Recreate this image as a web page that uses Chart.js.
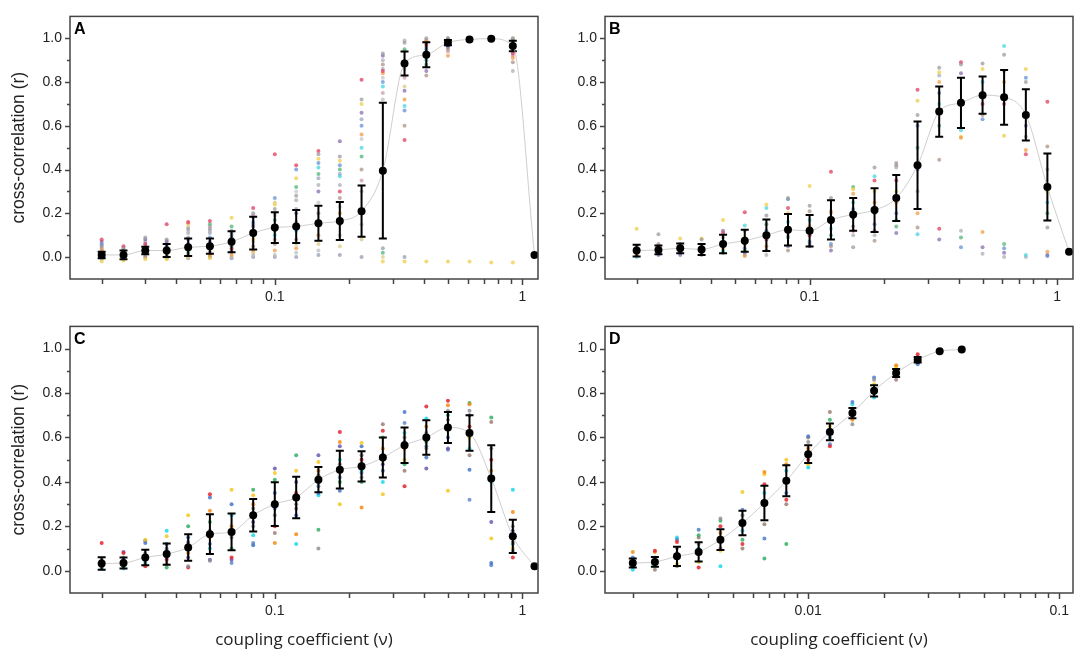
<!DOCTYPE html>
<html>
<head>
<meta charset="utf-8">
<script src="https://cdn.jsdelivr.net/npm/chart.js@4.4.1/dist/chart.umd.min.js"></script>
<style>
  html, body { margin: 0; padding: 0; background: #fff; }
  #wrap { position: relative; width: 1084px; height: 657px; }
  #wrap canvas { position: absolute; }
</style>
</head>
<body>
<div id="wrap">
  <canvas id="chartA" width="542" height="310" style="left:0;top:0"></canvas>
  <canvas id="chartB" width="542" height="310" style="left:542px;top:0"></canvas>
  <canvas id="chartC" width="542" height="347" style="left:0;top:310px"></canvas>
  <canvas id="chartD" width="542" height="347" style="left:542px;top:310px"></canvas>
</div>
<script>
// coupling coefficients (x)
const xABC = [0.02, 0.0245, 0.03, 0.0366, 0.0447, 0.0547, 0.0669, 0.0818, 0.1, 0.122, 0.15, 0.183,
              0.224, 0.273, 0.334, 0.409, 0.5, 0.611, 0.748, 0.914, 1.118];
const xD = [0.002, 0.00245, 0.003, 0.00366, 0.00447, 0.00547, 0.00669, 0.00818, 0.01, 0.0122, 0.015,
            0.0183, 0.0224, 0.0273, 0.0334, 0.0409];

// tick marks / labels
const yTicks = [0, 0.2, 0.4, 0.6, 0.8, 1.0];
const yMinorTicks = [0.1, 0.3, 0.5, 0.7, 0.9];
const xTicksABC = [0.02, 0.03, 0.04, 0.05, 0.06, 0.07, 0.08, 0.09, 0.1, 0.2, 0.3, 0.4, 0.5, 0.6, 0.7, 0.8, 0.9, 1];
const xLabelsABC = [0.1, 1];
const xTicksD = [0.002, 0.003, 0.004, 0.005, 0.006, 0.007, 0.008, 0.009, 0.01, 0.02, 0.03, 0.04, 0.05, 0.06, 0.07, 0.08, 0.09, 0.1];
const xLabelsD = [0.01, 0.1];

// panel A: means, sd, individual runs per coupling value
const meanA = [0.01, 0.01, 0.03, 0.03, 0.045, 0.05, 0.07, 0.11, 0.135, 0.14, 0.155, 0.165, 0.21, 0.395,
               0.885, 0.925, 0.98, 0.995, 0.998, 0.965, 0.01];
const sdA = [0.015, 0.02, 0.017, 0.03, 0.04, 0.035, 0.048, 0.075, 0.07, 0.075, 0.08, 0.087, 0.117, 0.31,
             0.055, 0.057, 0.012, 0, 0, 0.024, 0];
const dotsA = [
  [0.05, 0.08, 0.03, -0.02, 0.06, 0.02, 0.0, 0.07, 0.04, 0.01, -0.01, 0.0, 0.03, 0.015, 0.055, -0.005],
  [0.04, 0.05, 0.02, -0.015, 0.03, 0.01, 0.0, 0.02, 0.0, 0.035, -0.01, 0.01, 0.025, 0.045, 0.005, 0.015],
  [0.09, 0.06, 0.03, -0.01, 0.05, 0.04, 0.02, 0.08, 0.0, 0.07, 0.01, 0.035, 0.06, 0.045, 0.0, 0.025],
  [0.08, 0.15, 0.02, -0.01, 0.05, 0.03, 0.0, 0.07, 0.01, 0.06, 0.04, -0.005, 0.045, 0.015, 0.075, 0.005],
  [0.13, 0.16, 0.155, 0.0, 0.08, 0.04, 0.02, 0.06, 0.01, 0.11, 0.03, -0.005, 0.09, 0.12, 0.05, 0.14],
  [0.13, 0.165, 0.01, -0.005, 0.09, 0.05, 0.15, 0.07, 0.02, 0.12, 0.03, 0.0, 0.11, 0.06, 0.14, 0.005],
  [0.12, 0.04, 0.01, 0.18, 0.09, 0.05, 0.14, 0.07, 0.03, 0.1, 0.0, -0.005, 0.11, 0.08, 0.02, 0.06],
  [0.2, 0.225, 0.03, 0.08, 0.16, 0.1, 0.12, 0.14, 0.05, 0.18, 0.01, 0.0, 0.15, 0.07, 0.19, 0.02],
  [0.22, 0.47, 0.03, 0.24, 0.27, 0.1, 0.17, 0.12, 0.06, 0.2, 0.01, 0.0, 0.14, 0.19, 0.08, 0.25],
  [0.28, 0.42, 0.04, 0.36, 0.40, 0.12, 0.32, 0.2, 0.08, 0.26, 0.02, 0.0, 0.22, 0.3, 0.16, 0.06],
  [0.47, 0.485, 0.1, 0.45, 0.43, 0.41, 0.38, 0.3, 0.2, 0.33, 0.03, 0.01, 0.36, 0.25, 0.15, 0.06],
  [0.46, 0.3, 0.2, 0.44, 0.42, 0.37, 0.40, 0.53, 0.27, 0.33, 0.1, 0.01, 0.38, 0.23, 0.15, 0.05],
  [0.72, 0.81, 0.56, 0.7, 0.6, 0.5, 0.46, 0.66, 0.4, 0.3, 0.15, 0.0, 0.63, 0.54, 0.35, 0.08],
  [0.93, 0.85, 0.84, -0.02, 0.8, 0.78, 0.02, 0.92, 0.88, 0.9, 0.72, 0.04, 0.86, 0.82, 0.75, 0.0],
  [0.98, 0.535, 0.72, -0.02, 0.67, 0.69, 0.95, 0.76, 0.6, 0.99, 0.9, 0.0, 0.94, 0.86, 0.82, 0.78],
  [1.0, 0.97, 0.99, -0.02, 0.95, 0.9, 0.88, 0.85, 0.83, 0.98, 0.93, 0.96, 0.94, 0.87, 0.99, 0.91],
  [1.0, 0.99, 0.92, -0.02, 0.98, 0.97, 0.99, 0.96, 0.95, 1.0, 0.99, 0.985, 0.995, 0.97, 0.94, 0.98],
  [1.0, 0.995, 0.99, -0.02, 1.0, 0.995, 1.0, 0.99, 1.0, 1.0, 0.995, 1.0, 1.0, 0.99, 1.0, 0.995],
  [1.0, 0.995, 0.995, -0.025, 1.0, 1.0, 1.0, 0.995, 1.0, 1.0, 0.995, 1.0, 1.0, 1.0, 0.995, 1.0],
  [1.0, 0.93, 0.91, -0.025, 0.96, 0.95, 0.99, 0.97, 0.89, 0.85, 0.99, 0.98, 0.94, 0.97, 0.92, 1.0],
  null
];

// panel B
const meanB = [0.03, 0.033, 0.04, 0.035, 0.06, 0.075, 0.1, 0.125, 0.12, 0.17, 0.195, 0.215, 0.27, 0.42,
               0.665, 0.705, 0.74, 0.73, 0.65, 0.32, 0.025];
const sdB = [0.027, 0.02, 0.022, 0.025, 0.042, 0.05, 0.072, 0.072, 0.072, 0.09, 0.075, 0.1, 0.105, 0.2,
             0.115, 0.115, 0.085, 0.125, 0.117, 0.153, 0];
const dotsB = [
  [0.05, 0.03, 0.01, 0.13, 0.02, 0.0, 0.04, 0.01, 0.02, 0.03],
  [0.105, 0.03, 0.02, 0.04, 0.05, 0.02, 0.03, 0.01, 0.06, 0.02],
  [0.06, 0.03, 0.04, 0.085, 0.02, 0.05, 0.03, 0.01, 0.04, 0.02],
  [0.08, 0.02, 0.04, 0.085, 0.05, 0.03, 0.02, 0.03, 0.01, 0.05],
  [0.09, 0.11, 0.04, 0.17, 0.06, 0.03, 0.02, 0.12, 0.05, 0.02],
  [0.12, 0.205, 0.005, 0.09, 0.04, 0.145, 0.03, 0.02, 0.06, 0.01],
  [0.19, 0.08, 0.05, 0.24, 0.12, 0.225, 0.15, 0.1, 0.03, 0.01],
  [0.27, 0.225, 0.12, 0.2, 0.265, 0.16, 0.09, 0.05, 0.03, 0.1],
  [0.235, 0.1, 0.14, 0.325, 0.07, 0.17, 0.12, 0.05, 0.21, 0.06],
  [0.27, 0.39, 0.21, 0.17, 0.06, 0.13, 0.1, 0.03, 0.05, 0.2],
  [0.045, 0.12, 0.29, 0.31, 0.22, 0.25, 0.32, 0.18, 0.14, 0.1],
  [0.41, 0.35, 0.25, 0.3, 0.15, 0.37, 0.2, 0.12, 0.075, 0.1],
  [0.43, 0.35, 0.25, 0.3, 0.2, 0.17, 0.14, 0.11, 0.42, 0.41],
  [0.65, 0.765, 0.2, 0.715, 0.6, 0.105, 0.5, 0.4, 0.135, 0.3],
  [0.865, 0.13, 0.8, 0.845, 0.75, 0.7, 0.6, 0.08, 0.445, 0.83],
  [0.88, 0.89, 0.545, 0.55, 0.045, 0.58, 0.09, 0.84, 0.7, 0.12],
  [0.885, 0.7, 0.115, 0.86, 0.63, 0.8, 0.75, 0.045, 0.65, 0.015],
  [0.925, 0.7, 0.8, 0.555, 0.04, 0.965, 0.06, 0.02, 0.85, 0.0],
  [0.8, 0.47, 0.49, 0.86, 0.82, 0.01, 0.65, 0.6, 0.55, 0.0],
  [0.135, 0.71, 0.025, 0.3, 0.005, 0.25, 0.2, 0.01, 0.505, 0.4],
  null
];

// panel C
const meanC = [0.033, 0.035, 0.06, 0.075, 0.105, 0.165, 0.175, 0.25, 0.3, 0.33, 0.41, 0.455, 0.47, 0.51,
               0.565, 0.6, 0.645, 0.62, 0.415, 0.155, 0.02];
const sdC = [0.028, 0.025, 0.035, 0.048, 0.06, 0.09, 0.083, 0.073, 0.098, 0.093, 0.057, 0.085, 0.068, 0.09,
             0.08, 0.078, 0.07, 0.08, 0.15, 0.075, 0];
const dotsC = [
  [0.05, 0.125, 0.03, 0.02, 0.04, 0.01, 0.03, 0.02, 0.045, 0.015],
  [0.06, 0.08, 0.04, 0.03, 0.05, 0.01, 0.02, 0.085, 0.03, 0.04],
  [0.08, 0.02, 0.05, 0.14, 0.125, 0.04, 0.06, 0.135, 0.03, 0.07],
  [0.1, 0.05, 0.08, 0.155, 0.12, 0.18, 0.015, 0.06, 0.03, 0.09],
  [0.02, 0.015, 0.08, 0.25, 0.15, 0.1, 0.2, 0.06, 0.12, 0.13],
  [0.045, 0.345, 0.27, 0.15, 0.33, 0.1, 0.22, 0.05, 0.18, 0.12],
  [0.15, 0.06, 0.2, 0.365, 0.3, 0.25, 0.1, 0.05, 0.17, 0.035],
  [0.2, 0.25, 0.3, 0.34, 0.115, 0.16, 0.365, 0.22, 0.28, 0.125],
  [0.25, 0.2, 0.125, 0.44, 0.35, 0.3, 0.41, 0.46, 0.17, 0.28],
  [0.3, 0.35, 0.165, 0.45, 0.25, 0.12, 0.52, 0.4, 0.28, 0.33],
  [0.1, 0.4, 0.45, 0.49, 0.35, 0.34, 0.185, 0.52, 0.43, 0.38],
  [0.45, 0.625, 0.58, 0.3, 0.36, 0.5, 0.4, 0.56, 0.48, 0.42],
  [0.42, 0.5, 0.285, 0.575, 0.56, 0.45, 0.4, 0.48, 0.52, 0.44],
  [0.5, 0.63, 0.55, 0.345, 0.45, 0.4, 0.6, 0.48, 0.66, 0.52],
  [0.6, 0.38, 0.55, 0.5, 0.715, 0.62, 0.48, 0.58, 0.45, 0.665],
  [0.55, 0.74, 0.65, 0.6, 0.51, 0.685, 0.58, 0.46, 0.62, 0.56],
  [0.72, 0.765, 0.745, 0.36, 0.6, 0.65, 0.7, 0.55, 0.68, 0.545],
  [0.72, 0.65, 0.75, 0.6, 0.455, 0.55, 0.755, 0.7, 0.52, 0.32],
  [0.55, 0.5, 0.45, 0.145, 0.035, 0.4, 0.69, 0.22, 0.67, 0.025],
  [0.2, 0.06, 0.265, 0.1, 0.15, 0.365, 0.12, 0.18, 0.13, 0.09],
  null
];

// panel D
const meanD = [0.035, 0.04, 0.065, 0.085, 0.14, 0.215, 0.305, 0.405, 0.525, 0.625, 0.71, 0.81, 0.89, 0.95,
               0.988, 0.996];
const sdD = [0.02, 0.022, 0.043, 0.043, 0.047, 0.055, 0.078, 0.07, 0.04, 0.038, 0.023, 0.025, 0.018, 0.012, 0, 0];
const dotsD = [
  [0.04, 0.02, 0.085, 0.03, 0.06, 0.005, 0.045, 0.025],
  [0.06, 0.09, 0.085, 0.04, 0.03, 0.02, 0.05, 0.005],
  [0.1, 0.13, 0.06, 0.03, 0.14, 0.15, 0.08, 0.02],
  [0.12, 0.015, 0.08, 0.04, 0.185, 0.1, 0.16, 0.15],
  [0.235, 0.2, 0.17, 0.09, 0.14, 0.02, 0.225, 0.1],
  [0.25, 0.12, 0.22, 0.355, 0.275, 0.18, 0.14, 0.1],
  [0.3, 0.39, 0.445, 0.435, 0.145, 0.35, 0.055, 0.21],
  [0.4, 0.32, 0.48, 0.5, 0.35, 0.45, 0.12, 0.3],
  [0.58, 0.5, 0.55, 0.48, 0.605, 0.465, 0.52, 0.6],
  [0.6, 0.56, 0.62, 0.65, 0.57, 0.6, 0.68, 0.715],
  [0.66, 0.7, 0.68, 0.73, 0.76, 0.75, 0.7, 0.72],
  [0.86, 0.8, 0.82, 0.84, 0.87, 0.78, 0.81, 0.8],
  [0.9, 0.88, 0.925, 0.92, 0.89, 0.9, 0.88, 0.86],
  [0.95, 0.975, 0.96, 0.95, 0.93, 0.95, 0.94, 0.96],
  null,
  null
];

// run colours (gray, red, orange, yellow, blue, cyan, green, purple, taupe, extra grays)
const paleColors = ['rgba(150,150,155,0.7)', 'rgba(225,60,95,0.75)', 'rgba(240,150,60,0.7)', 'rgba(240,205,70,0.75)',
  'rgba(90,140,210,0.7)', 'rgba(60,210,225,0.7)', 'rgba(70,175,110,0.7)', 'rgba(130,100,170,0.7)',
  'rgba(170,140,125,0.7)', 'rgba(170,170,175,0.7)', 'rgba(185,185,190,0.7)', 'rgba(140,150,170,0.7)',
  'rgba(150,160,185,0.7)', 'rgba(195,195,200,0.7)', 'rgba(200,150,165,0.7)', 'rgba(215,200,130,0.7)'];
const brightColors = ['rgba(140,140,145,0.8)', 'rgba(230,35,45,0.85)', 'rgba(245,140,20,0.85)', 'rgba(245,200,30,0.85)',
  'rgba(60,110,200,0.8)', 'rgba(30,215,235,0.85)', 'rgba(40,170,90,0.8)', 'rgba(100,80,170,0.8)',
  'rgba(150,120,110,0.8)', 'rgba(90,130,200,0.8)'];
const colorsD = ['rgba(140,140,145,0.8)', 'rgba(230,35,45,0.85)', 'rgba(245,140,20,0.85)', 'rgba(245,200,30,0.85)',
  'rgba(70,120,200,0.8)', 'rgba(30,215,235,0.85)', 'rgba(40,170,90,0.8)', 'rgba(150,120,110,0.8)'];

Chart.defaults.font.family = '"Liberation Sans", Arial, sans-serif';
Chart.defaults.color = '#222';

function makePanel(p) {
  const nRuns = p.colors.length;
  const datasets = [{
    type: 'line',
    data: p.xs.map((x, i) => ({ x: x, y: p.means[i] })),
    borderColor: 'rgba(185,185,185,0.7)',
    borderWidth: 1,
    cubicInterpolationMode: 'monotone',
    pointRadius: 4,
    pointBackgroundColor: '#000',
    pointBorderWidth: 0,
    order: 0
  }];
  for (let r = 0; r < nRuns; r++) {
    const pts = [];
    p.xs.forEach((x, i) => {
      if (p.dots[i]) pts.push({ x: x, y: p.dots[i][r] });
    });
    datasets.push({
      type: 'scatter',
      data: pts,
      pointRadius: 2,
      pointBackgroundColor: p.colors[r],
      pointBorderWidth: 0,
      order: 1
    });
  }

  // frame, tick marks, panel letter and error bars
  const panelPlugin = {
    id: 'panel' + p.letter,
    beforeDatasetDraw(chart, args) {
      if (args.index !== 0) return;
      const { ctx, scales: { x, y } } = chart;
      ctx.save();
      ctx.strokeStyle = '#000';
      ctx.lineWidth = 2;
      p.xs.forEach((xv, i) => {
        const s = p.sds[i];
        if (!s) return;
        const px = x.getPixelForValue(xv);
        const top = y.getPixelForValue(p.means[i] + s);
        const bot = y.getPixelForValue(p.means[i] - s);
        ctx.beginPath();
        ctx.moveTo(px, top); ctx.lineTo(px, bot);
        ctx.moveTo(px - 4, top); ctx.lineTo(px + 4, top);
        ctx.moveTo(px - 4, bot); ctx.lineTo(px + 4, bot);
        ctx.stroke();
      });
      ctx.restore();
    },
    afterDraw(chart) {
      const { ctx, chartArea: a, scales: { x, y } } = chart;
      ctx.save();
      ctx.strokeStyle = '#444';
      ctx.lineWidth = 1.5;
      ctx.strokeRect(a.left, a.top, a.right - a.left, a.bottom - a.top);
      ctx.beginPath();
      yTicks.forEach(v => {
        const py = Math.round(y.getPixelForValue(v)) + 0.5;
        ctx.moveTo(a.left - 5, py); ctx.lineTo(a.left, py);
      });
      yMinorTicks.forEach(v => {
        const py = Math.round(y.getPixelForValue(v)) + 0.5;
        ctx.moveTo(a.left - 3, py); ctx.lineTo(a.left, py);
      });
      p.xTicks.forEach(v => {
        const px = Math.round(x.getPixelForValue(v)) + 0.5;
        const len = p.xLabels.includes(v) ? 6 : 5;
        ctx.moveTo(px, a.bottom); ctx.lineTo(px, a.bottom + len);
      });
      ctx.stroke();
      ctx.fillStyle = '#000';
      ctx.font = 'bold 16px "Liberation Sans", Arial, sans-serif';
      ctx.textBaseline = 'top';
      ctx.textAlign = 'left';
      ctx.fillText(p.letter, a.left + 4, a.top + 5);
      ctx.restore();
    }
  };

  return new Chart(document.getElementById(p.id), {
    type: 'scatter',
    data: { datasets: datasets },
    plugins: [panelPlugin],
    options: {
      responsive: false,
      animation: false,
      events: [],
      layout: { padding: p.pad },
      plugins: { legend: { display: false }, tooltip: { enabled: false } },
      scales: {
        x: {
          type: 'logarithmic',
          min: p.xMin,
          max: p.xMax,
          afterBuildTicks: s => { s.ticks = p.xLabels.map(v => ({ value: v })); },
          afterFit: s => { s.height = p.axisH; },
          ticks: { callback: v => String(v), padding: 10, autoSkip: false, maxRotation: 0,
                   font: { size: 14 }, color: '#222' },
          grid: { display: false, drawTicks: false },
          border: { display: false },
          title: { display: p.xTitle, text: 'coupling coefficient (\u03bd)', color: '#222',
                   font: { family: '"Open Sans", sans-serif', size: 17 }, padding: { top: 0, bottom: 7 } }
        },
        y: {
          type: 'linear',
          min: -0.1,
          max: 1.1,
          afterBuildTicks: s => { s.ticks = yTicks.map(v => ({ value: v })); },
          afterFit: s => { s.width = p.axisW; },
          ticks: { callback: v => v.toFixed(1), padding: 8, font: { size: 14 }, color: '#222' },
          grid: { display: false, drawTicks: false },
          border: { display: false },
          title: { display: p.yTitle, text: 'cross-correlation (r)', color: '#222',
                   font: { size: 17.5 }, padding: { top: 9, bottom: 0 } }
        }
      }
    }
  });
}

makePanel({ id: 'chartA', letter: 'A', xs: xABC, means: meanA, sds: sdA, dots: dotsA, colors: paleColors,
  xTicks: xTicksABC, xLabels: xLabelsABC, xMin: 0.0149, xMax: 1.155, yTitle: true, xTitle: false,
  axisW: 70, axisH: 31, pad: { top: 5, right: 3, left: 0, bottom: 0 } });
makePanel({ id: 'chartB', letter: 'B', xs: xABC, means: meanB, sds: sdB, dots: dotsB, colors: paleColors.slice(0, 10),
  xTicks: xTicksABC, xLabels: xLabelsABC, xMin: 0.0149, xMax: 1.16, yTitle: false, xTitle: false,
  axisW: 63, axisH: 31, pad: { top: 5, right: 11, left: 0, bottom: 0 } });
makePanel({ id: 'chartC', letter: 'C', xs: xABC, means: meanC, sds: sdC, dots: dotsC, colors: brightColors,
  xTicks: xTicksABC, xLabels: xLabelsABC, xMin: 0.0149, xMax: 1.155, yTitle: true, xTitle: true,
  axisW: 70, axisH: 64, pad: { top: 9, right: 3, left: 0, bottom: 0 } });
makePanel({ id: 'chartD', letter: 'D', xs: xD, means: meanD, sds: sdD, dots: dotsD, colors: colorsD,
  xTicks: xTicksD, xLabels: xLabelsD, xMin: 0.00155, xMax: 0.1135, yTitle: false, xTitle: true,
  axisW: 63, axisH: 64, pad: { top: 9, right: 11, left: 0, bottom: 0 } });
</script>
</body>
</html>
